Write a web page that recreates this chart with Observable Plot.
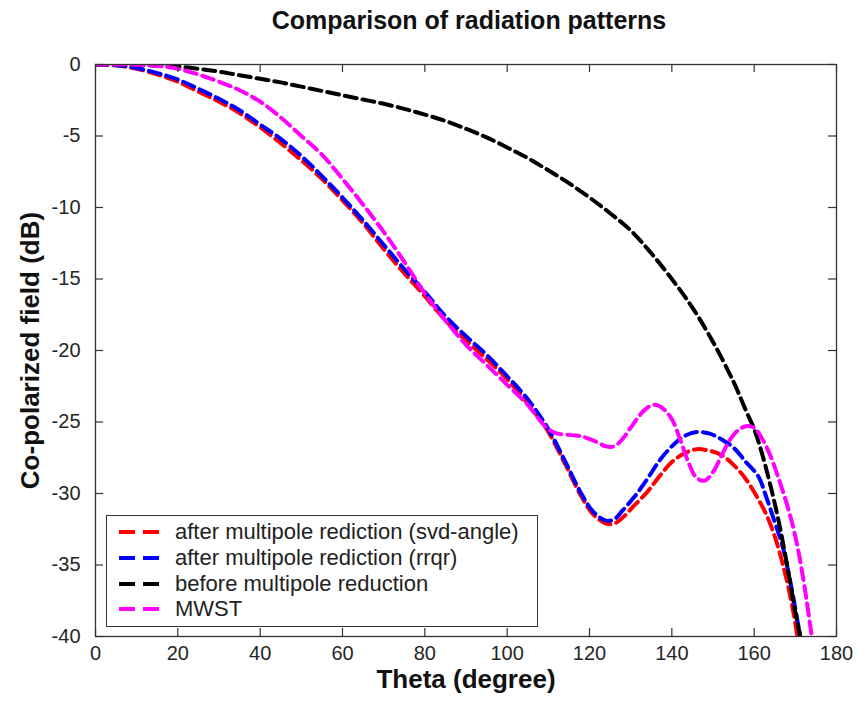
<!DOCTYPE html>
<html>
<head>
<meta charset="utf-8">
<script src="https://cdn.jsdelivr.net/npm/d3@7"></script>
<script src="https://cdn.jsdelivr.net/npm/@observablehq/plot@0.6"></script>
<style>
  body { margin: 0; background: white; font-family: "Liberation Sans", Arial, sans-serif; }
  #wrap { position: relative; width: 863px; height: 703px; background: white; }
  #title { position: absolute; left: 95px; width: 748px; top: 4px; text-align: center; font-size: 25px; font-weight: bold; line-height: 32px; color: #111; }
  #chart { position: absolute; left: 0; top: 40px; }
  #legend { position: absolute; left: 106px; top: 515px; width: 430px; height: 110px; border: 1.3px solid #333; background: white; }
  .row { position: absolute; left: 0; height: 26px; line-height: 26px; font-size: 22px; color: #222; white-space: nowrap; }
  .row svg { position: absolute; left: 11px; top: 0; }
  .row span { position: absolute; left: 68px; top: 0; }
</style>
</head>
<body>
<div id="wrap">
  <div id="title">Comparison of radiation patterns</div>
  <div id="chart"></div>
  <div id="legend"></div>
</div>
<script>
// ---- data ----
const seriesNames = [
  "after multipole rediction (svd-angle)",
  "after multipole rediction (rrqr)",
  "before multipole reduction",
  "MWST"
];
const seriesColors = ["#ff0000", "#0000ff", "#000000", "#ff00ff"];

const thetaSvd = [0,5,10,15,20,25,30,35,40,45,50,55,60,65,70,75,80,85,90,95,100,105,110,114,118,121,124,126,128,131,134,137,140,143,146,149,152,155,158,161,163,165,167,169,170.5,171.5];
const dbSvd    = [0,-0.06,-0.3,-0.7,-1.2,-1.9,-2.6,-3.4,-4.4,-5.5,-6.7,-8.0,-9.5,-11.1,-12.9,-14.6,-16.2,-17.9,-19.3,-20.6,-22.0,-23.7,-25.7,-27.9,-30.2,-31.5,-32.1,-32.1,-31.7,-30.8,-29.9,-28.8,-27.8,-27.2,-26.9,-27.0,-27.3,-28.0,-29.0,-30.4,-31.5,-33.0,-35.0,-37.5,-40,-42];

const thetaRrqr = [0,5,10,15,20,25,30,35,40,45,50,55,60,65,70,75,80,85,90,95,100,105,110,114,118,121,124,126,128,131,134,137,140,143,146,149,152,155,158,161,163,165,167,169,171,172];
const dbRrqr    = [0,-0.05,-0.25,-0.6,-1.05,-1.7,-2.4,-3.2,-4.2,-5.2,-6.4,-7.8,-9.3,-10.9,-12.6,-14.3,-15.9,-17.6,-19.0,-20.3,-21.8,-23.4,-25.5,-27.7,-30.0,-31.3,-31.9,-31.8,-31.2,-30.2,-29.0,-27.7,-26.7,-26.0,-25.7,-25.8,-26.2,-26.8,-27.8,-28.8,-30.3,-32.0,-33.8,-36.5,-39.7,-41.5];

const thetaBefore = [0,5,10,15,20,25,30,35,40,45,50,55,60,65,70,75,80,85,90,95,100,105,110,115,120,125,130,135,140,145,150,155,158,160,162,164,166,168,170,171.2,172];
const dbBefore    = [0,0,-0.03,-0.08,-0.15,-0.3,-0.5,-0.75,-1.0,-1.25,-1.55,-1.85,-2.15,-2.45,-2.75,-3.1,-3.5,-3.95,-4.5,-5.1,-5.8,-6.55,-7.4,-8.3,-9.3,-10.4,-11.6,-13.2,-15.0,-17.0,-19.4,-22.2,-24.2,-25.5,-27.3,-29.5,-32.0,-35.0,-38.3,-40,-41.5];

const thetaMwst = [0,5,10,15,20,25,30,35,40,45,50,55,60,65,70,75,80,85,90,95,100,105,108,110,112,115,118,121,124,126,128,130,132,134,136,138,140,142,144,146,148,150,152,154,156,158,160,162,164,166,168,170,172,173,174,175];
const dbMwst    = [0,0,-0.02,-0.1,-0.3,-0.7,-1.2,-1.8,-2.6,-3.7,-5.0,-6.3,-8.0,-9.8,-11.7,-13.8,-16.0,-17.9,-19.6,-21.0,-22.4,-23.8,-24.9,-25.5,-25.8,-25.9,-26.0,-26.3,-26.7,-26.7,-26.2,-25.4,-24.6,-24.0,-23.8,-24.1,-24.8,-26.2,-27.8,-28.9,-29.1,-28.5,-27.4,-26.3,-25.6,-25.3,-25.4,-26.2,-27.4,-29.0,-30.8,-33.0,-36.1,-38.0,-40,-42];

const xTicks = [0,20,40,60,80,100,120,140,160,180];
const yTicks = [0,-5,-10,-15,-20,-25,-30,-35,-40];

// ---- build table ----
const seriesX = [thetaSvd, thetaRrqr, thetaBefore, thetaMwst];
const seriesY = [dbSvd, dbRrqr, dbBefore, dbMwst];
const rows = [];
seriesNames.forEach((name, i) => {
  seriesX[i].forEach((t, j) => rows.push({series: name, theta: t, db: seriesY[i][j]}));
});

const W = 863, H = 663, mL = 95, mR = 27, mT = 24, mB = 67;
const fw = W - mL - mR, fh = H - mT - mB, tk = 8;

const lineMarks = seriesNames.map((name, i) =>
  Plot.line(rows.filter(d => d.series === name), {
    x: "theta", y: "db", stroke: seriesColors[i], strokeWidth: 4,
    strokeDasharray: "12,6", curve: "catmull-rom", clip: true
  })
);

const fmt = d => String(d);

const chart = Plot.plot({
  width: W, height: H,
  marginLeft: mL, marginRight: mR, marginTop: mT, marginBottom: mB,
  x: {domain: [0, 180]},
  y: {domain: [-40, 0]},
  style: {fontFamily: "'Liberation Sans', Arial, sans-serif", fontSize: "20px", color: "#262626", background: "white", overflow: "visible"},
  marks: [
    Plot.axisX(xTicks, {tickSize: 0, tickPadding: 9, label: null, fontSize: 20, tickFormat: fmt}),
    Plot.axisY(yTicks, {tickSize: 0, tickPadding: 15, label: null, fontSize: 20, tickFormat: fmt}),
    ...lineMarks,
    Plot.tickX(xTicks, {x: d => d, insetTop: fh - tk, stroke: "#333", strokeWidth: 1.2}),
    Plot.tickX(xTicks, {x: d => d, insetBottom: fh - tk, stroke: "#333", strokeWidth: 1.2}),
    Plot.tickY(yTicks, {y: d => d, insetRight: fw - tk, stroke: "#333", strokeWidth: 1.2}),
    Plot.tickY(yTicks, {y: d => d, insetLeft: fw - tk, stroke: "#333", strokeWidth: 1.2}),
    Plot.frame({stroke: "#333", strokeWidth: 1.3}),
    Plot.text(["Theta (degree)"], {text: d => d, frameAnchor: "bottom", dy: 51, lineAnchor: "bottom", textAnchor: "middle", fontSize: 26, fontWeight: "bold", fill: "#111"}),
    Plot.text(["Co-polarized field (dB)"], {text: d => d, frameAnchor: "left", dx: -65, rotate: -90, lineAnchor: "middle", textAnchor: "middle", fontSize: 26, fontWeight: "bold", fill: "#111"})
  ]
});
document.getElementById("chart").appendChild(chart);

// ---- legend ----
const legend = document.getElementById("legend");
seriesNames.forEach((name, i) => {
  const row = document.createElement("div");
  row.className = "row";
  row.style.top = (3 + 25.8 * i) + "px";
  row.style.width = "100%";
  row.innerHTML = `<svg width="52" height="26"><line x1="1" x2="42" y1="13" y2="13" stroke="${seriesColors[i]}" stroke-width="4" stroke-dasharray="16,8"/></svg><span>${name}</span>`;
  legend.appendChild(row);
});
</script>
</body>
</html>
